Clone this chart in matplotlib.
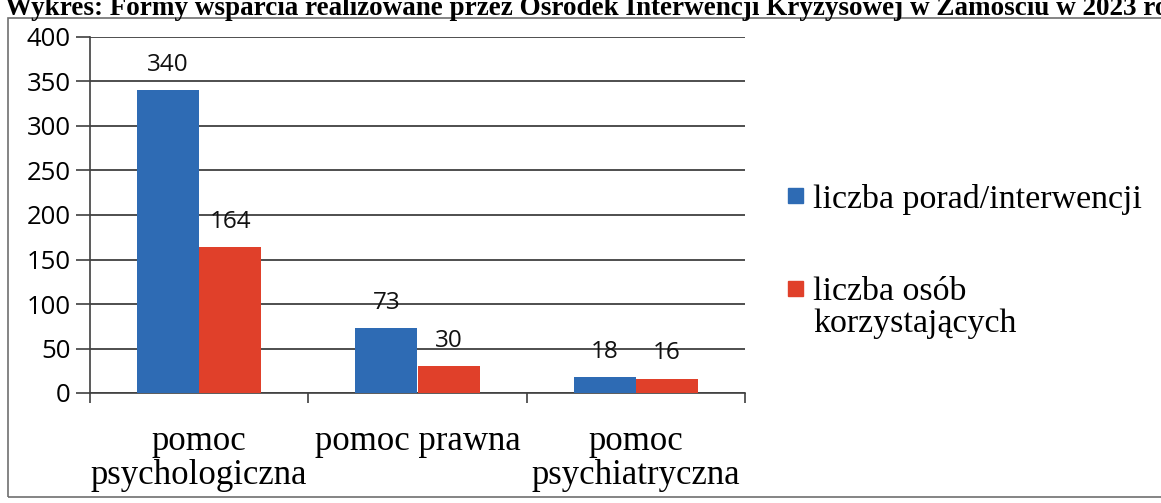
import matplotlib
matplotlib.use("Agg")
import matplotlib.pyplot as plt
import numpy as np
from matplotlib.patches import Rectangle

# data
categories = ["pomoc\npsychologiczna", "pomoc prawna", "pomoc\npsychiatryczna"]
porady = [340, 73, 18]
osoby = [164, 30, 16]
series_names = ["liczba porad/interwencji", "liczba osób\nkorzystających"]
yticks = [0, 50, 100, 150, 200, 250, 300, 350, 400]
title = "Wykres: Formy wsparcia realizowane przez Ośrodek Interwencji Kryzysowej w Zamościu w 2023 roku"

blue = "#2e6bb4"
red = "#e0402a"

fig = plt.figure(figsize=(11.61, 5.03), dpi=100)
ax = fig.add_axes([90 / 1161, 1 - 393 / 503, (745 - 90) / 1161, (393 - 37) / 503])

# outer frame of the scanned chart
fig.patches.append(Rectangle((8 / 1161, 6 / 503), 1.2, 1 - 24 / 503, transform=fig.transFigure,
                             fill=False, edgecolor="#707070", linewidth=1.2))

x = np.arange(len(categories))
w = 0.285
b1 = ax.bar(x - w / 2, porady, w, color=blue, zorder=3)
b2 = ax.bar(x + w / 2, osoby, w, color=red, zorder=3)

for bars in (b1, b2):
    for r in bars:
        ax.text(r.get_x() + r.get_width() / 2, r.get_height() + 15, str(int(r.get_height())),
                ha="center", va="bottom", fontsize=17.5, family="Open Sans", color="#111111")

ax.set_xlim(-0.5, len(categories) - 0.5)
ax.set_ylim(0, 400)
ax.set_yticks(yticks)
ax.set_yticklabels([str(v) for v in yticks], fontsize=18.5, family="Open Sans")
ax.yaxis.grid(True, color="#404040", linewidth=1.3, zorder=0)
ax.set_axisbelow(True)

ax.set_xticks([-0.5, 0.5, 1.5, 2.5], minor=False)
ax.set_xticklabels([])
ax.set_xticks(x, minor=True)
ax.set_xticklabels(categories, minor=True, fontsize=25, family="Liberation Serif", linespacing=1.05)
ax.tick_params(axis="x", which="major", length=7, width=1.2, direction="out", color="#404040")
ax.tick_params(axis="x", which="minor", length=0, pad=23)
ax.tick_params(axis="y", length=10, width=1.2, color="#404040", pad=4)

for s in ["top", "right"]:
    ax.spines[s].set_visible(False)
ax.spines["left"].set_color("#404040")
ax.spines["bottom"].set_color("#404040")
ax.spines["left"].set_linewidth(1.2)
ax.spines["bottom"].set_linewidth(1.2)

# legend drawn by hand: square marker + serif text
legend_y = [196, 289]
for name, col, yy in zip(series_names, [blue, red], legend_y):
    fig.patches.append(Rectangle((788 / 1161, 1 - (yy + 7) / 503), 15 / 1161, 15 / 503,
                                 transform=fig.transFigure, color=col))
    fig.text(813 / 1161, 1 - (yy - 12) / 503, name, ha="left", va="top", fontsize=24.5,
             family="Liberation Serif", linespacing=1.05)

fig.text(5 / 1161, 1 - 15 / 503, title, ha="left", va="baseline", fontsize=19.5,
         family="Liberation Serif", weight="bold")

fig.savefig("out.png", dpi=100)
